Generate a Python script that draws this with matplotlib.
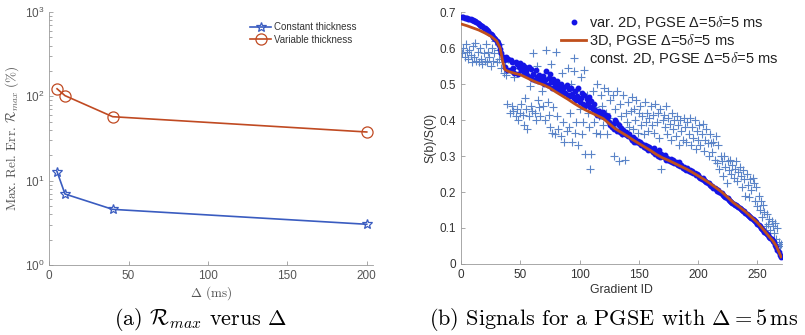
import matplotlib
matplotlib.use("Agg")
import matplotlib.pyplot as plt
import numpy as np

plt.rcParams['mathtext.fontset'] = 'cm'
plt.rcParams['font.family'] = ['Liberation Sans', 'DejaVu Sans']

# ---- panel (a) data ----
delta_ms = [5, 10, 40, 200]
err_const = [12.8, 6.95, 4.57, 3.04]
err_var = [123, 102, 57.4, 37.8]

# ---- panel (b) data ----
id_3d = [1, 5, 10, 15, 20, 25, 30, 33, 35, 37, 40, 45, 50, 55, 60, 65, 70, 75, 80, 85,
         90, 95, 100, 105, 110, 115, 120, 125, 130, 135, 140, 145, 150, 155, 160, 165,
         170, 175, 180, 185, 190, 195, 200, 205, 210, 215, 220, 225, 230, 235, 240, 245,
         250, 255, 260, 263, 266, 268, 270]
sig_3d = [0.666, 0.662, 0.656, 0.650, 0.642, 0.633, 0.620, 0.600, 0.565, 0.540, 0.535,
          0.530, 0.526, 0.518, 0.510, 0.503, 0.497, 0.489, 0.478, 0.468, 0.458, 0.447,
          0.437, 0.428, 0.420, 0.412, 0.404, 0.390, 0.376, 0.366, 0.356, 0.345, 0.335,
          0.325, 0.315, 0.304, 0.295, 0.288, 0.280, 0.272, 0.264, 0.255, 0.245, 0.235,
          0.224, 0.212, 0.200, 0.185, 0.170, 0.158, 0.145, 0.130, 0.115, 0.096, 0.076,
          0.065, 0.050, 0.035, 0.020]

sig_var2d = [
    0.686, 0.685, 0.684, 0.684, 0.683, 0.682, 0.682, 0.680, 0.679, 0.678,
    0.676, 0.674, 0.672, 0.670, 0.668, 0.665, 0.662, 0.660, 0.657, 0.655,
    0.652, 0.649, 0.646, 0.643, 0.640, 0.636, 0.632, 0.628, 0.624, 0.620,
    0.615, 0.608, 0.598, 0.586, 0.575, 0.568, 0.548, 0.575, 0.540, 0.570,
    0.538, 0.566, 0.560, 0.545, 0.532, 0.562, 0.555, 0.528, 0.548, 0.558,
    0.540, 0.552, 0.530, 0.546, 0.536, 0.525, 0.548, 0.520, 0.542, 0.515,
    0.528, 0.512, 0.538, 0.520, 0.508, 0.525, 0.516, 0.505, 0.522, 0.500,
    0.512, 0.536, 0.496, 0.518, 0.528, 0.505, 0.490, 0.515, 0.500, 0.486,
    0.508, 0.494, 0.482, 0.500, 0.488, 0.478, 0.492, 0.475, 0.498, 0.470,
    0.485, 0.466, 0.490, 0.472, 0.460, 0.480, 0.455, 0.468, 0.488, 0.450,
    0.462, 0.475, 0.445, 0.470, 0.440, 0.458, 0.448, 0.465, 0.436, 0.452,
    0.430, 0.445, 0.428, 0.420, 0.415, 0.425, 0.412, 0.418, 0.410, 0.422,
    0.408, 0.415, 0.402, 0.412, 0.395, 0.385, 0.380, 0.388, 0.375, 0.400,
    0.395, 0.370, 0.385, 0.368, 0.378, 0.360, 0.372, 0.362, 0.366, 0.358,
    0.355, 0.362, 0.350, 0.345, 0.352, 0.340, 0.348, 0.338, 0.342, 0.335,
    0.338, 0.330, 0.334, 0.325, 0.330, 0.322, 0.328, 0.318, 0.324, 0.316,
    0.320, 0.310, 0.322, 0.305, 0.312, 0.300, 0.318, 0.298, 0.305, 0.300,
    0.296, 0.302, 0.290, 0.295, 0.288, 0.285, 0.292, 0.282, 0.288, 0.280,
    0.284, 0.278, 0.275, 0.282, 0.272, 0.276, 0.268, 0.270, 0.265, 0.262,
    0.266, 0.258, 0.262, 0.255, 0.258, 0.252, 0.254, 0.248, 0.250, 0.246,
    0.242, 0.240, 0.236, 0.238, 0.232, 0.230, 0.228, 0.225, 0.226, 0.220,
    0.218, 0.216, 0.212, 0.210, 0.208, 0.204, 0.205, 0.200, 0.198, 0.196,
    0.192, 0.190, 0.186, 0.184, 0.182, 0.178, 0.175, 0.172, 0.170, 0.168,
    0.165, 0.163, 0.160, 0.158, 0.156, 0.153, 0.150, 0.148, 0.146, 0.143,
    0.140, 0.137, 0.134, 0.131, 0.128, 0.125, 0.122, 0.119, 0.116, 0.112,
    0.108, 0.105, 0.101, 0.098, 0.094, 0.090, 0.087, 0.083, 0.080, 0.076,
    0.073, 0.069, 0.065, 0.060, 0.054, 0.048, 0.040, 0.032, 0.025, 0.020,
]

sig_const2d = [
    0.585, 0.600, 0.575, 0.610, 0.590, 0.570, 0.595, 0.580, 0.560, 0.605,
    0.575, 0.615, 0.565, 0.590, 0.560, 0.600, 0.570, 0.555, 0.585, 0.565,
    0.610, 0.560, 0.590, 0.575, 0.550, 0.600, 0.565, 0.585, 0.620, 0.560,
    0.595, 0.570, 0.610, 0.545, 0.580, 0.530, 0.560, 0.525, 0.445, 0.570,
    0.420, 0.540, 0.440, 0.425, 0.520, 0.410, 0.430, 0.400, 0.545, 0.420,
    0.445, 0.415, 0.385, 0.460, 0.430, 0.375, 0.410, 0.495, 0.440, 0.425,
    0.585, 0.420, 0.400, 0.550, 0.455, 0.435, 0.410, 0.480, 0.440, 0.520,
    0.400, 0.595, 0.450, 0.415, 0.380, 0.555, 0.365, 0.435, 0.360, 0.590,
    0.410, 0.375, 0.500, 0.355, 0.530, 0.395, 0.340, 0.490, 0.370, 0.545,
    0.380, 0.420, 0.500, 0.340, 0.535, 0.365, 0.395, 0.480, 0.330, 0.430,
    0.520, 0.360, 0.395, 0.540, 0.305, 0.470, 0.420, 0.380, 0.265, 0.305,
    0.480, 0.395, 0.435, 0.365, 0.500, 0.410, 0.360, 0.470, 0.440, 0.385,
    0.490, 0.420, 0.360, 0.480, 0.405, 0.455, 0.385, 0.470, 0.300, 0.430,
    0.395, 0.480, 0.285, 0.445, 0.410, 0.365, 0.470, 0.290, 0.420, 0.395,
    0.450, 0.380, 0.425, 0.465, 0.375, 0.430, 0.400, 0.455, 0.365, 0.420,
    0.440, 0.385, 0.410, 0.360, 0.450, 0.395, 0.420, 0.370, 0.405, 0.440,
    0.385, 0.415, 0.365, 0.445, 0.395, 0.420, 0.350, 0.430, 0.265, 0.400,
    0.415, 0.380, 0.440, 0.360, 0.405, 0.390, 0.345, 0.420, 0.375, 0.400,
    0.355, 0.410, 0.385, 0.330, 0.400, 0.370, 0.345, 0.405, 0.380, 0.340,
    0.395, 0.360, 0.405, 0.330, 0.380, 0.350, 0.400, 0.320, 0.370, 0.345,
    0.385, 0.330, 0.360, 0.390, 0.315, 0.345, 0.375, 0.335, 0.300, 0.360,
    0.335, 0.310, 0.340, 0.290, 0.355, 0.280, 0.330, 0.265, 0.300, 0.285,
    0.245, 0.300, 0.270, 0.225, 0.285, 0.260, 0.290, 0.250, 0.275, 0.240,
    0.265, 0.285, 0.230, 0.255, 0.270, 0.245, 0.215, 0.260, 0.235, 0.190,
    0.250, 0.220, 0.185, 0.235, 0.205, 0.240, 0.225, 0.175, 0.215, 0.160,
    0.190, 0.150, 0.175, 0.130, 0.165, 0.145, 0.105, 0.140, 0.110, 0.125,
    0.095, 0.120, 0.105, 0.085, 0.115, 0.070, 0.100, 0.060, 0.050, 0.055,
]
grad_id = np.arange(1, len(sig_var2d) + 1)

blue = '#3a5cc0'
red = '#c04a22'
axis_gray = '#9a9a9a'
text_gray = '#555555'

fig = plt.figure(figsize=(8.05, 3.35), dpi=100)

# ---- (a) ----
ax1 = fig.add_axes([0.061, 0.209, 0.4025, 0.755])
ax1.plot(delta_ms, err_const, color=blue, lw=1.2, marker='*', ms=7,
         mfc='none', mec=blue, mew=0.9, label='Constant thickness')
ax1.plot(delta_ms, err_var, color=red, lw=1.2, marker='o', ms=8,
         mfc='none', mec=red, mew=0.9, label='Variable thickness')
ax1.set_yscale('log')
ax1.set_ylim(1, 1000)
ax1.set_xlim(0, 204)
ax1.set_xticks([0, 50, 100, 150, 200])
for s in ['top', 'right']:
    ax1.spines[s].set_visible(False)
for s in ['left', 'bottom']:
    ax1.spines[s].set_color(axis_gray)
    ax1.spines[s].set_linewidth(0.6)
ax1.tick_params(which='both', direction='in', colors=axis_gray, labelcolor=text_gray,
                labelsize=8.5, width=0.6)
ax1.tick_params(which='major', length=3)
ax1.tick_params(which='minor', length=1.8)
ax1.set_xlabel(r'$\Delta$ (ms)', family='cmr10', fontsize=9.5, color=text_gray, labelpad=2)
ax1.set_ylabel(r'Max. Rel. Err. $\mathcal{R}_{max}$ (%)', family='cmr10', fontsize=9.5,
               color=text_gray, labelpad=3)
leg1 = ax1.legend(loc='upper right', bbox_to_anchor=(0.965, 0.98), frameon=False,
                  fontsize=7, handlelength=2.2, labelspacing=0.3, borderpad=0,
                  handletextpad=0.3)
for t in leg1.get_texts():
    t.set_color('#333333')

# ---- (b) ----
ax2 = fig.add_axes([0.5727, 0.212, 0.399, 0.752])
ax2.plot(grad_id, sig_var2d, linestyle='none', marker='o', ms=3.2, color='#1414e6',
         label=r'var. 2D, PGSE Δ=5$\delta$=5 ms', zorder=3)
ax2.plot(id_3d, sig_3d, color='#c04f1c', lw=2, label=r'3D, PGSE Δ=5$\delta$=5 ms', zorder=4)
ax2.plot(grad_id, sig_const2d, linestyle='none', marker='+', ms=6, mew=0.8,
         color='#5b84c8', label=r'const. 2D, PGSE Δ=5$\delta$=5 ms', zorder=2)
ax2.set_xlim(0, 271)
ax2.set_ylim(0, 0.7)
ax2.set_xticks([0, 50, 100, 150, 200, 250])
ax2.set_yticks([0, 0.1, 0.2, 0.3, 0.4, 0.5, 0.6, 0.7])
ax2.set_yticklabels(['0', '0.1', '0.2', '0.3', '0.4', '0.5', '0.6', '0.7'])
for s in ['top', 'right']:
    ax2.spines[s].set_visible(False)
for s in ['left', 'bottom']:
    ax2.spines[s].set_color(axis_gray)
    ax2.spines[s].set_linewidth(0.6)
ax2.tick_params(direction='in', colors=axis_gray, labelcolor='#333333', labelsize=8.5,
                length=3, width=0.6)
ax2.set_xlabel('Gradient ID', fontsize=8.8, color='#333333', labelpad=2)
ax2.set_ylabel('S(b)/S(0)', fontsize=8.8, color='#333333', labelpad=2)
leg2 = ax2.legend(loc='upper right', bbox_to_anchor=(1.01, 1.02), frameon=False,
                  fontsize=10.5, handlelength=1.7, labelspacing=0.05, borderpad=0,
                  handletextpad=0.2)
for t in leg2.get_texts():
    t.set_color('#222222')

# ---- captions ----
fig.text(0.249, 0.045, r'(a) $\mathcal{R}_{max}$ verus $\Delta$', family='cmr10',
         fontsize=16, ha='center', va='center')
fig.text(0.762, 0.045, r'(b) Signals for a PGSE with $\Delta = 5\,\mathrm{ms}$',
         family='cmr10', fontsize=16, ha='center', va='center')

fig.savefig('out.png', dpi=100)
